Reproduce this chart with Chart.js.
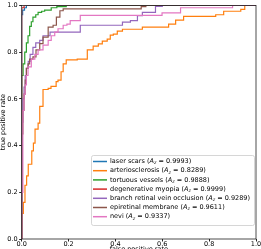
<!DOCTYPE html>
<html>
<head>
<meta charset="utf-8">
<script src="https://cdn.jsdelivr.net/npm/chart.js@4.4.1/dist/chart.umd.min.js"></script>
<style>
  html, body { margin: 0; padding: 0; background: #fff; }
  #roc { display: block; }
</style>
</head>
<body>
<canvas id="roc" width="261" height="249"></canvas>
<script>
// classes and their AUC values (legend)
const classNames = ['laser scars', 'arteriosclerosis', 'tortuous vessels', 'degenerative myopia',
    'branch retinal vein occlusion', 'epiretinal membrane', 'nevi'];
const aucValues = ['0.9993', '0.8289', '0.9888', '0.9999', '0.9289', '0.9611', '0.9337'];
const colors = ['#1f77b4', '#ff7f0e', '#2ca02c', '#d62728', '#9467bd', '#8c564b', '#e377c2'];

const tickValues = [0, 0.2, 0.4, 0.6, 0.8, 1.0];

// ROC corner points (fpr, tpr)
const fprLaser = [0, 0, 0.004, 0.012, 0.02, 1];
const tprLaser = [0, 0.96, 0.98, 0.99, 1, 1];

const fprArterio = [0, 0, 0.007, 0.014, 0.021, 0.028, 0.043, 0.05, 0.057, 0.07, 0.077, 0.091, 0.113, 0.125,
    0.147, 0.155, 0.168, 0.177, 0.19, 0.237, 0.28, 0.305, 0.327, 0.344, 0.365, 0.378, 0.391, 0.408, 0.43,
    0.515, 0.627, 0.657, 0.691, 0.828, 0.862, 0.935, 0.952, 1];
const tprArterio = [0, 0.11, 0.157, 0.23, 0.27, 0.32, 0.377, 0.41, 0.47, 0.496, 0.568, 0.64, 0.645, 0.653,
    0.674, 0.68, 0.716, 0.75, 0.767, 0.77, 0.81, 0.826, 0.835, 0.847, 0.856, 0.873, 0.877, 0.89, 0.898,
    0.907, 0.92, 0.937, 0.953, 0.96, 0.975, 0.983, 1, 1];

const fprTortuous = [0, 0, 0.006, 0.013, 0.02, 0.027, 0.034, 0.041, 0.048, 0.06, 0.07, 0.085, 0.098, 0.126, 0.15, 0.19, 1];
const tprTortuous = [0, 0.7, 0.75, 0.8, 0.84, 0.87, 0.91, 0.93, 0.95, 0.96, 0.97, 0.975, 0.98, 0.99, 0.995, 1, 1];

const fprMyopia = [0, 0, 0.01, 1];
const tprMyopia = [0, 0.99, 1, 1];

const fprBranch = [0, 0, 0.005, 0.01, 0.015, 0.02, 0.028, 0.036, 0.048, 0.06, 0.077, 0.091, 0.121,
    0.25, 0.43, 0.464, 0.494, 0.515, 0.571, 0.6, 1];
const tprBranch = [0, 0.5, 0.6, 0.65, 0.7, 0.73, 0.76, 0.79, 0.82, 0.84, 0.85, 0.87, 0.886,
    0.915, 0.928, 0.935, 0.956, 0.97, 0.996, 1, 1];

const fprEpiret = [0, 0, 0.005, 0.01, 0.015, 0.02, 0.027, 0.034, 0.048, 0.061, 0.077, 0.091, 0.113, 0.134,
    0.148, 0.163, 0.177, 0.51, 0.53, 1];
const tprEpiret = [0, 0.45, 0.55, 0.62, 0.68, 0.73, 0.75, 0.77, 0.78, 0.81, 0.836, 0.864, 0.907, 0.915,
    0.95, 0.977, 0.985, 0.995, 1, 1];

const fprNevi = [0, 0, 0.005, 0.01, 0.015, 0.02, 0.027, 0.041, 0.056, 0.07, 0.091, 0.113, 0.126, 0.141,
    0.155, 0.177, 0.193, 0.207, 0.25, 0.599, 0.678, 0.9, 1];
const tprNevi = [0, 0.2, 0.55, 0.62, 0.66, 0.7, 0.737, 0.77, 0.79, 0.81, 0.83, 0.85, 0.87, 0.886,
    0.9, 0.915, 0.92, 0.935, 0.957, 0.968, 0.99, 1, 1];

const curves = [
    [fprLaser, tprLaser], [fprArterio, tprArterio], [fprTortuous, tprTortuous], [fprMyopia, tprMyopia],
    [fprBranch, tprBranch], [fprEpiret, tprEpiret], [fprNevi, tprNevi]
];

const FONT = 'DejaVu Sans';

function toPoints(xs, ys) {
    return xs.map((x, i) => ({ x: x, y: ys[i] }));
}

const datasets = curves.map((c, i) => ({
    label: classNames[i],
    data: toPoints(c[0], c[1]),
    borderColor: colors[i],
    borderWidth: 1.2,
    pointRadius: 0,
    stepped: true,
    fill: false,
    order: curves.length - i
}));

// frame, axis titles and legend drawn like matplotlib does
const extras = {
    id: 'extras',
    afterDraw(chart) {
        const ctx = chart.ctx;
        const a = chart.chartArea;
        ctx.save();

        ctx.strokeStyle = '#222';
        ctx.lineWidth = 0.8;
        ctx.strokeRect(a.left, a.top, a.right - a.left, a.bottom - a.top);

        ctx.fillStyle = '#000';
        ctx.font = '6.5px ' + FONT;
        ctx.textAlign = 'center';
        ctx.textBaseline = 'middle';
        ctx.fillText('false positive rate', (a.left + a.right) / 2, 249);
        ctx.save();
        ctx.translate(3, (a.top + a.bottom) / 2);
        ctx.rotate(-Math.PI / 2);
        ctx.fillText('true positive rate', 0, 0);
        ctx.restore();

        // legend
        const bx = 91, by = 155, bw = 163, bh = 70;
        ctx.fillStyle = 'rgba(255,255,255,0.8)';
        ctx.strokeStyle = '#cccccc';
        ctx.lineWidth = 0.8;
        ctx.beginPath();
        ctx.roundRect(bx + 0.5, by + 0.5, bw, bh, 2);
        ctx.fill();
        ctx.stroke();

        ctx.textAlign = 'left';
        ctx.textBaseline = 'middle';
        classNames.forEach((name, i) => {
            const y = by + 6.5 + i * 9.2;
            ctx.strokeStyle = colors[i];
            ctx.lineWidth = 1.5;
            ctx.beginPath();
            ctx.moveTo(93, y);
            ctx.lineTo(107, y);
            ctx.stroke();

            ctx.fillStyle = '#000';
            let x = 110;
            ctx.font = '6.5px ' + FONT;
            const head = name + ' (';
            ctx.fillText(head, x, y);
            x += ctx.measureText(head).width;
            ctx.font = 'italic 6.5px ' + FONT;
            ctx.fillText('A', x, y);
            x += ctx.measureText('A').width;
            ctx.font = 'italic 4.6px ' + FONT;
            ctx.fillText('z', x, y + 1.6);
            x += ctx.measureText('z').width;
            ctx.font = '6.5px ' + FONT;
            ctx.fillText(' = ' + aucValues[i] + ')', x, y);
        });
        ctx.restore();
    }
};

new Chart(document.getElementById('roc'), {
    type: 'line',
    data: { datasets: datasets },
    options: {
        responsive: false,
        animation: false,
        devicePixelRatio: 1,
        layout: { padding: { top: 2.5, right: 5, left: 0, bottom: 0 } },
        plugins: {
            legend: { display: false },
            tooltip: { enabled: false }
        },
        scales: {
            x: {
                type: 'linear',
                min: 0,
                max: 1,
                afterBuildTicks: s => { s.ticks = tickValues.map(v => ({ value: v })); },
                afterFit: s => { s.height = 10; },
                grid: { drawOnChartArea: false, drawTicks: true, tickLength: 2.5, color: '#222' },
                border: { display: false },
                ticks: {
                    callback: v => v.toFixed(1),
                    font: { family: FONT, size: 6.5 },
                    color: '#000',
                    padding: -1.5,
                    maxRotation: 0,
                    autoSkip: false
                }
            },
            y: {
                type: 'linear',
                min: 0,
                max: 1,
                afterBuildTicks: s => { s.ticks = tickValues.map(v => ({ value: v })); },
                afterFit: s => { s.width = 21.7; },
                grid: { drawOnChartArea: false, drawTicks: true, tickLength: 2.5, color: '#222' },
                border: { display: false },
                ticks: {
                    callback: v => v.toFixed(1),
                    font: { family: FONT, size: 6.5 },
                    color: '#000',
                    padding: 1.5,
                    autoSkip: false
                }
            }
        }
    },
    plugins: [extras]
});
</script>
</body>
</html>
